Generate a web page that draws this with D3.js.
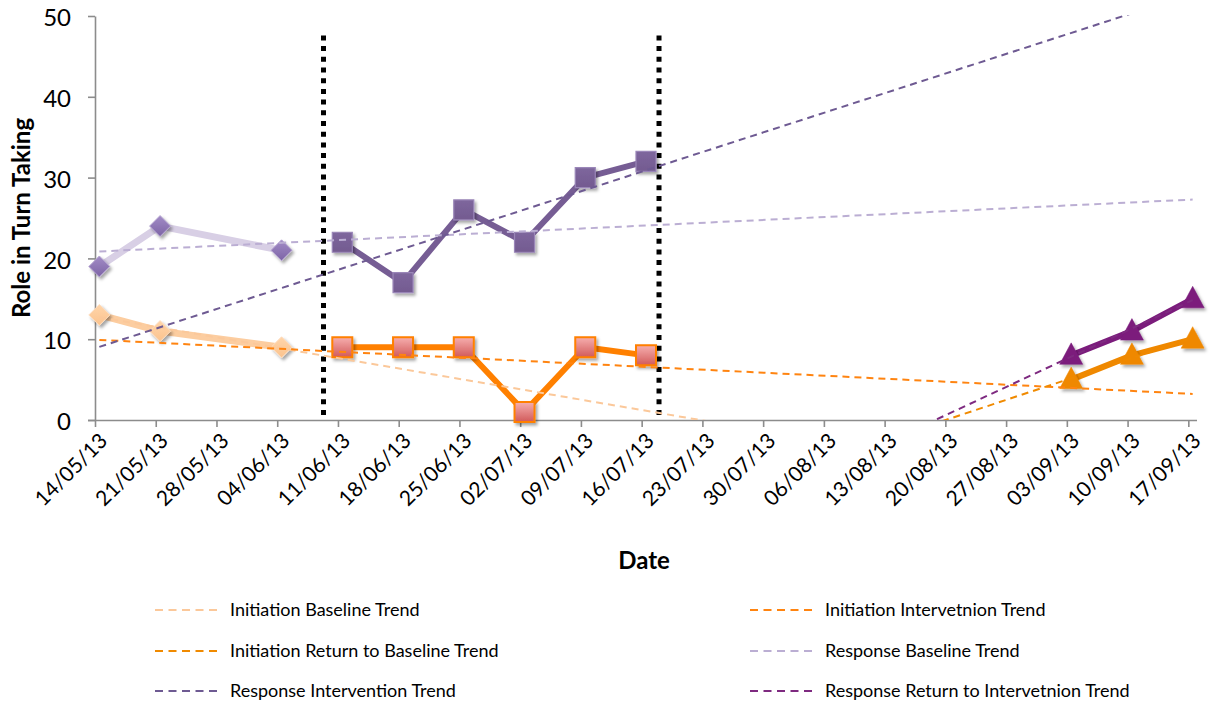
<!DOCTYPE html>
<html><head><meta charset="utf-8">
<script src="https://cdn.jsdelivr.net/npm/d3@7"></script>
<style>body{margin:0;background:#fff} svg{display:block} text{font-family:Lato,"Open Sans",sans-serif}</style>
</head><body>
<svg id="c" width="1229" height="701"></svg>
<script>
// ---------- data ----------
const tickLabels = ["14/05/13","21/05/13","28/05/13","04/06/13","11/06/13","18/06/13","25/06/13","02/07/13","09/07/13","16/07/13","23/07/13","30/07/13","06/08/13","13/08/13","20/08/13","27/08/13","03/09/13","10/09/13","17/09/13"];
const yTicks = [0,10,20,30,40,50];
const baselineDates = ["14/05/13","21/05/13","04/06/13"];
const initiationBaseline = [13,11,9];
const responseBaseline = [19,24,21];
const interventionDates = ["11/06/13","18/06/13","25/06/13","02/07/13","09/07/13","16/07/13"];
const initiationIntervention = [9,9,9,1,9,8];
const responseIntervention = [22,17,26,22,30,32];
const returnDates = ["03/09/13","10/09/13","17/09/13"];
const initiationReturn = [5,8,10];
const responseReturn = [8,11,15];
const phaseChanges = ["09/06/13 08:00","18/07/13 00:00"];
const legendLabels = ["Initiation Baseline Trend","Initiation Intervetnion Trend","Initiation Return to Baseline Trend","Response Baseline Trend","Response Intervention Trend","Response Return to Intervetnion Trend"];

// ---------- setup ----------
const parse = d3.utcParse("%d/%m/%y");
const parseT = d3.utcParse("%d/%m/%y %H:%M");
const DAY = 864e5;
const svg = d3.select("#c");
const L = 95, R = 1197, T = 16, B = 420;
const x0 = parse("14/05/13"), x1 = parse("18/09/13");
const x = d3.scaleUtc().domain([x0, x1]).range([L, R]);
const y = d3.scaleLinear().domain([0, 50]).range([B, T]);
const px = s => x(new Date(parse(s).getTime() + DAY / 2));

const defs = svg.append("defs");
const f = defs.append("filter").attr("id","sh").attr("x","-50%").attr("y","-50%").attr("width","200%").attr("height","200%");
f.append("feDropShadow").attr("dx",2).attr("dy",2.5).attr("stdDeviation",1.6).attr("flood-color","#000").attr("flood-opacity",0.35);
defs.append("clipPath").attr("id","plot").append("rect").attr("x",L).attr("y",T-1).attr("width",R-L).attr("height",B-T+1);
function grad(id, c1, c2){
  const g = defs.append("linearGradient").attr("id",id).attr("x1",0).attr("y1",0).attr("x2",0).attr("y2",1);
  g.append("stop").attr("offset","0%").attr("stop-color",c1);
  g.append("stop").attr("offset","100%").attr("stop-color",c2);
}
grad("gPink","#F6AFAF","#D15A5A");
grad("gPurp","#A28CC6","#7D64A6");
grad("gPeach","#FFD5AA","#FBC38E");
grad("gSq","#7E679D","#735A90");

// ---------- axes ----------
const yAxis = d3.axisLeft(y).tickValues(yTicks).tickSize(7).tickPadding(17).tickSizeOuter(0);
const gy = svg.append("g").attr("transform",`translate(${L},0)`).call(yAxis);
gy.select(".domain").attr("stroke","#8c8c8c").attr("stroke-width",1.6);
gy.selectAll(".tick line").attr("stroke","#8c8c8c").attr("stroke-width",1.6);
gy.selectAll(".tick text").attr("font-size",24).attr("fill","#000").attr("font-family","Lato").attr("dy","0.4em");

const xAxis = d3.axisBottom(x).tickValues(tickLabels.map(parse)).tickFormat(d3.utcFormat("%d/%m/%y")).tickSize(7).tickSizeOuter(0);
const gx = svg.append("g").attr("transform",`translate(0,${B})`).call(xAxis);
gx.select(".domain").attr("stroke","#8c8c8c").attr("stroke-width",1.6).attr("d",`M${L-7},0.5H${R}`);
gx.selectAll(".tick line").attr("stroke","#8c8c8c").attr("stroke-width",1.6);
gx.selectAll(".tick text").attr("font-size",21).attr("fill","#000").attr("font-family","Lato")
  .attr("text-anchor","end").attr("transform","translate(8,17) rotate(-45)").attr("dy","0.35em").attr("y",0).attr("x",0);

svg.append("text").attr("x",644).attr("y",569).attr("text-anchor","middle").attr("font-size",24).attr("font-weight","bold").text("Date");
svg.append("text").attr("transform","translate(30,218) rotate(-90)").attr("text-anchor","middle").attr("font-size",24).attr("font-weight","bold").text("Role in Turn Taking");

// ---------- phase change lines ----------
phaseChanges.forEach(s => {
  const xx = x(parseT(s));
  svg.append("line").attr("x1",xx).attr("x2",xx).attr("y1",y(47.6)).attr("y2",y(0.5))
    .attr("stroke","#000").attr("stroke-width",5).attr("stroke-dasharray","5,5.7");
});

// ---------- data series ----------
const lineGen = d3.line().x(d => px(d[0])).y(d => y(d[1]));
function series(dates, vals, color, w){
  const pts = dates.map((d,i)=>[d, vals[i]]);
  svg.append("path").datum(pts).attr("d",lineGen).attr("fill","none").attr("stroke",color).attr("stroke-width",w).attr("stroke-linejoin","round");
  return pts;
}
function markers(pts, shape, fill, stroke, sw){
  const g = svg.append("g").attr("filter","url(#sh)");
  pts.forEach(p => {
    const cx = px(p[0]), cy = y(p[1]);
    let d;
    if (shape==="diamond") d = `M${cx},${cy-10.5}L${cx+10.5},${cy}L${cx},${cy+10.5}L${cx-10.5},${cy}Z`;
    else if (shape==="square") d = `M${cx-10},${cy-10}h20v20h-20Z`;
    else d = `M${cx},${cy-12.5}L${cx+11.5},${cy+9}L${cx-11.5},${cy+9}Z`;
    g.append("path").attr("d",d).attr("fill",fill).attr("stroke",stroke).attr("stroke-width",sw);
  });
}
const p1 = series(baselineDates, responseBaseline, "#D8CFE5", 7);
markers(p1, "diamond", "url(#gPurp)", "#B7A7D2", 1);
const p2 = series(baselineDates, initiationBaseline, "#FCCDA0", 7);
markers(p2, "diamond", "url(#gPeach)", "#FDDDBF", 1);
const p3 = series(interventionDates, responseIntervention, "#765D94", 6);
markers(p3, "square", "url(#gSq)", "#9A86B8", 1.2);
const p4 = series(interventionDates, initiationIntervention, "#FF8000", 6);
markers(p4, "square", "url(#gPink)", "#FF8000", 2);
const p5 = series(returnDates, responseReturn, "#7B1C7C", 6);
markers(p5, "triangle", "#7B1C7C", "#7B1C7C", 0.5);
const p6 = series(returnDates, initiationReturn, "#EF8800", 6);
markers(p6, "triangle", "#EF8800", "#EF8800", 0.5);

// ---------- linear trend lines (least squares, as in the source) ----------
function trend(dates, vals){
  const xs = dates.map(d => (parse(d) - x0) / DAY);
  const mx = d3.mean(xs), my = d3.mean(vals);
  const sxy = d3.sum(xs, (v,i)=>(v-mx)*(vals[i]-my)), sxx = d3.sum(xs, v=>(v-mx)*(v-mx));
  const m = sxy / sxx, b = my - m * mx;
  return [0, 126].map(dd => [dd, b + m * dd]);
}
const tline = d3.line().x(d => x(new Date(x0.getTime() + (d[0] + 0.5) * DAY))).y(d => y(d[1]));
const trends = [
  [baselineDates, initiationBaseline, "#FBC89A"],
  [interventionDates, initiationIntervention, "#FF8410"],
  [returnDates, initiationReturn, "#F08A00"],
  [baselineDates, responseBaseline, "#BBAED3"],
  [interventionDates, responseIntervention, "#6E5A92"],
  [returnDates, responseReturn, "#7E2A80"]
];
const tg = svg.append("g").attr("clip-path","url(#plot)");
trends.forEach(t => {
  tg.append("path").datum(trend(t[0], t[1])).attr("d", tline).attr("fill","none")
    .attr("stroke", t[2]).attr("stroke-width", 2).attr("stroke-dasharray","7,5");
});

// ---------- legend ----------
const legendPos = [[155,610],[750,610],[155,651],[750,651],[155,691],[750,691]];
legendLabels.forEach((lab,i) => {
  const [lx, ly] = legendPos[i];
  svg.append("line").attr("x1",lx).attr("x2",lx+62).attr("y1",ly).attr("y2",ly)
    .attr("stroke",trends[i][2]).attr("stroke-width",2).attr("stroke-dasharray","8,5.5");
  svg.append("text").attr("x",lx+75).attr("y",ly).attr("dy","0.35em").attr("font-size",18).attr("fill","#000").text(lab);
});
</script>
</body></html>
